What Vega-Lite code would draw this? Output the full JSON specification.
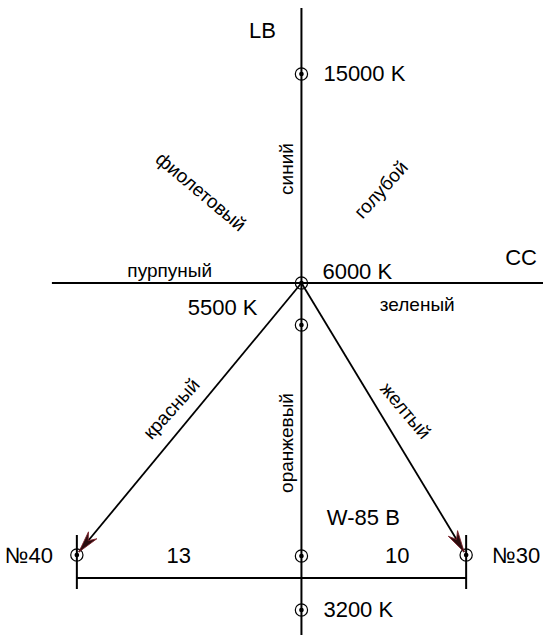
{
  "$schema": "https://vega.github.io/schema/vega-lite/v6.json",
  "width": 544,
  "height": 643,
  "padding": 0,
  "autosize": {"type": "fit", "contains": "padding"},
  "background": "white",
  "config": {"view": {"stroke": null}, "text": {"font": "Liberation Sans", "fill": "#000"}},
  "datasets": {
    "segments": [
      {"part": "LB axis", "x": 302, "y": 8, "x2": 302, "y2": 635},
      {"part": "CC axis", "x": 52, "y": 283, "x2": 544, "y2": 283},
      {"part": "base", "x": 77, "y": 578, "x2": 467, "y2": 578},
      {"part": "tick 40", "x": 77, "y": 535, "x2": 77, "y2": 589},
      {"part": "tick 30", "x": 467, "y": 535, "x2": 467, "y2": 589}
    ],
    "arrows": [
      {"part": "to 40", "x": 302, "y": 283, "x2": 79, "y2": 552},
      {"part": "to 30", "x": 302, "y": 283, "x2": 465, "y2": 552}
    ],
    "nodes": [
      {"name": "15000 K", "x": 302, "y": 74},
      {"name": "6000 K", "x": 302, "y": 283},
      {"name": "5500 K", "x": 302, "y": 325},
      {"name": "W-85 B", "x": 302, "y": 556},
      {"name": "3200 K", "x": 302, "y": 610},
      {"name": "40", "x": 77, "y": 555},
      {"name": "30", "x": 467, "y": 555}
    ],
    "labelsLeft": [
      {"t": "15000 K", "x": 324, "y": 81},
      {"t": "6000 K", "x": 323, "y": 279},
      {"t": "3200 K", "x": 324, "y": 617},
      {"t": "№30", "x": 493, "y": 563}
    ],
    "labelsCenter": [
      {"t": "LB", "x": 263, "y": 38},
      {"t": "CC", "x": 522, "y": 265},
      {"t": "W-85 B", "x": 364, "y": 525},
      {"t": "13", "x": 179, "y": 563},
      {"t": "10", "x": 398, "y": 563}
    ],
    "labelsRight": [
      {"t": "5500 K", "x": 258, "y": 315},
      {"t": "№40", "x": 53, "y": 563}
    ],
    "words": [
      {"t": "пурпуный", "x": 170, "y": 277},
      {"t": "зеленый", "x": 418, "y": 311}
    ],
    "wordsV": [
      {"t": "синий", "x": 288, "y": 169},
      {"t": "оранжевый", "x": 288, "y": 443}
    ],
    "wordsA": [{"t": "фиолетовый", "x": 201, "y": 192}],
    "wordsB": [
      {"t": "голубой", "x": 382, "y": 190},
      {"t": "красный", "x": 172, "y": 409}
    ],
    "wordsC": [{"t": "желтый", "x": 406, "y": 411}],
    "tip40": [{"x": 79, "y": 552}],
    "tip30": [{"x": 465, "y": 552}]
  },
  "encoding": {
    "x": {"field": "x", "type": "quantitative", "scale": {"domain": [0, 544], "nice": false, "zero": false}, "axis": null},
    "y": {"field": "y", "type": "quantitative", "scale": {"domain": [0, 643], "nice": false, "zero": false, "reverse": true}, "axis": null}
  },
  "layer": [
    {"data": {"name": "segments"}, "mark": {"type": "rule", "color": "#000", "strokeWidth": 2},
     "encoding": {"x2": {"field": "x2"}, "y2": {"field": "y2"}}},
    {"data": {"name": "arrows"}, "mark": {"type": "rule", "color": "#000", "strokeWidth": 1.8},
     "encoding": {"x2": {"field": "x2"}, "y2": {"field": "y2"}}},
    {"data": {"name": "nodes"}, "mark": {"type": "point", "shape": "circle", "filled": false, "stroke": "#000", "strokeWidth": 1.2, "size": 150, "opacity": 1}},
    {"data": {"name": "nodes"}, "mark": {"type": "point", "shape": "circle", "filled": true, "fill": "#000", "size": 22, "opacity": 1}},
    {"data": {"name": "tip40"}, "mark": {"type": "point", "shape": "M0,0 L0.5,2 L0,1.35 L-0.5,2 Z", "filled": true, "fill": "#2a0c0e", "stroke": "#7a1f28", "strokeWidth": 0.8, "size": 470, "angle": 219.6, "opacity": 1}},
    {"data": {"name": "tip30"}, "mark": {"type": "point", "shape": "M0,0 L0.5,2 L0,1.35 L-0.5,2 Z", "filled": true, "fill": "#2a0c0e", "stroke": "#7a1f28", "strokeWidth": 0.8, "size": 470, "angle": 148.8, "opacity": 1}},
    {"data": {"name": "labelsLeft"}, "mark": {"type": "text", "align": "left", "baseline": "alphabetic", "fontSize": 22}, "encoding": {"text": {"field": "t"}}},
    {"data": {"name": "labelsCenter"}, "mark": {"type": "text", "align": "center", "baseline": "alphabetic", "fontSize": 22}, "encoding": {"text": {"field": "t"}}},
    {"data": {"name": "labelsRight"}, "mark": {"type": "text", "align": "right", "baseline": "alphabetic", "fontSize": 22}, "encoding": {"text": {"field": "t"}}},
    {"data": {"name": "words"}, "mark": {"type": "text", "align": "center", "baseline": "alphabetic", "fontSize": 19}, "encoding": {"text": {"field": "t"}}},
    {"data": {"name": "wordsV"}, "mark": {"type": "text", "align": "center", "baseline": "middle", "fontSize": 19, "angle": 270}, "encoding": {"text": {"field": "t"}}},
    {"data": {"name": "wordsA"}, "mark": {"type": "text", "align": "center", "baseline": "middle", "fontSize": 19, "angle": 40}, "encoding": {"text": {"field": "t"}}},
    {"data": {"name": "wordsB"}, "mark": {"type": "text", "align": "center", "baseline": "middle", "fontSize": 19, "angle": 312}, "encoding": {"text": {"field": "t"}}},
    {"data": {"name": "wordsC"}, "mark": {"type": "text", "align": "center", "baseline": "middle", "fontSize": 19, "angle": 50}, "encoding": {"text": {"field": "t"}}}
  ]
}
